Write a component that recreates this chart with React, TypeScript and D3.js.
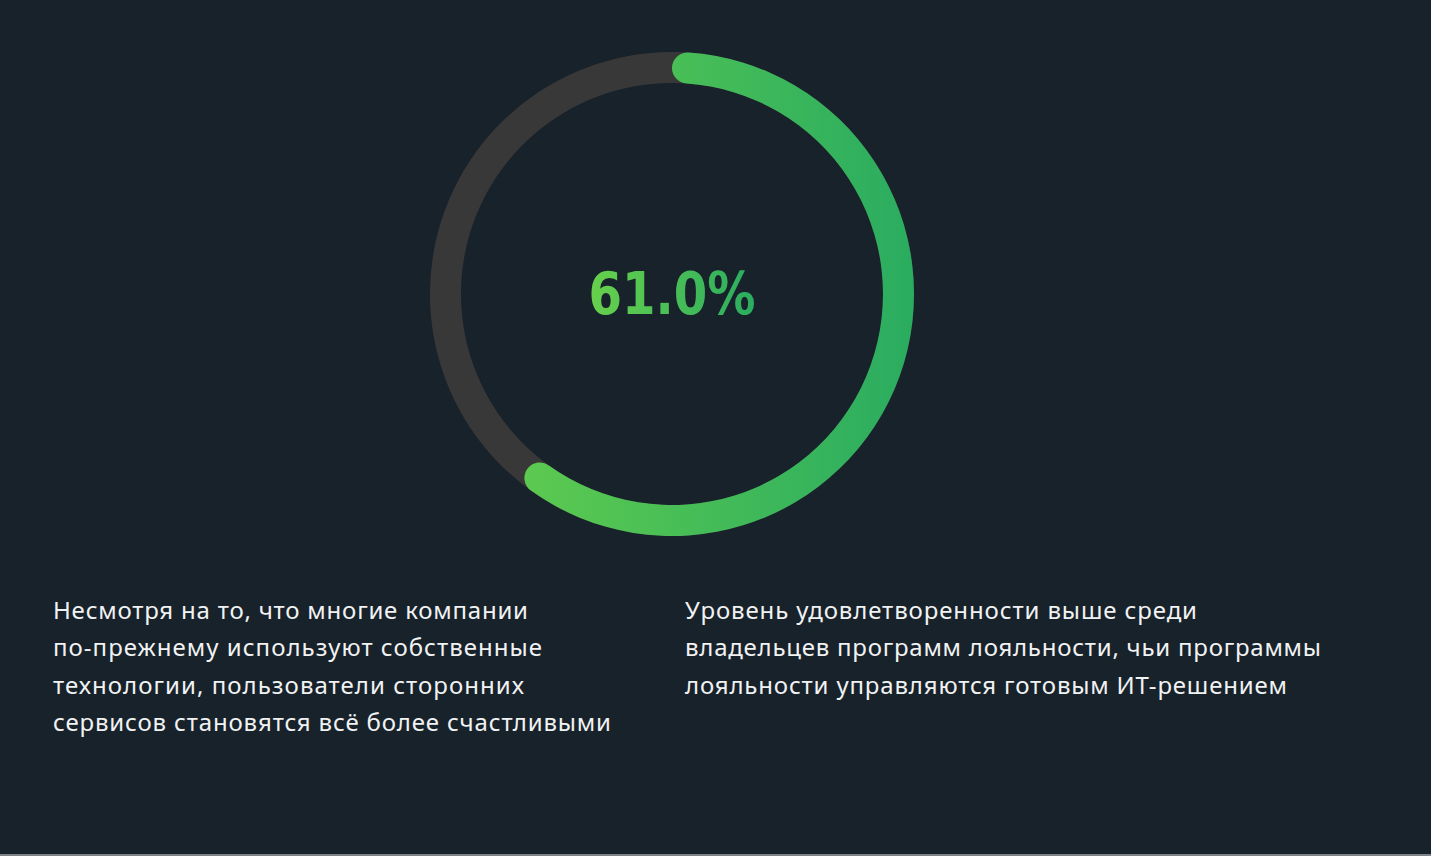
import React from "react";
import * as d3 from "d3";

const value = 61.0;
const valueLabel = "61.0%";
const leftLines = [
  "Несмотря на то, что многие компании",
  "по-прежнему используют собственные",
  "технологии, пользователи сторонних",
  "сервисов становятся всё более счастливыми",
];
const leftWidths = [475, 489, 471, 558];
const rightLines = [
  "Уровень удовлетворенности выше среди",
  "владельцев программ лояльности, чьи программы",
  "лояльности управляются готовым ИТ-решением",
];
const rightWidths = [512, 636, 602];

const W = 1431;
const H = 856;
const cx = 672;
const cy = 294;
const outerR = 242;
const innerR = 211;

export default function App() {
  const angle = d3.scaleLinear().domain([0, 100]).range([0, 2 * Math.PI]);
  const track = d3.arc()({
    innerRadius: innerR,
    outerRadius: outerR,
    startAngle: 0,
    endAngle: 2 * Math.PI,
  } as any) as string;
  const valueArc = d3
    .arc()
    .cornerRadius((outerR - innerR) / 2)({
    innerRadius: innerR,
    outerRadius: outerR,
    startAngle: 0,
    endAngle: angle(value),
  } as any) as string;

  const lineH = 37.4;
  const textStyle: React.CSSProperties = {
    fontFamily: "'Noto Sans', 'Open Sans', sans-serif",
    fontSize: 24,
    fill: "#f1f2f3",
  };

  return (
    <svg
      width={W}
      height={H}
      style={{ position: "absolute", left: 0, top: 0, display: "block" }}
    >
      <defs>
        <linearGradient
          id="ringGrad"
          gradientUnits="userSpaceOnUse"
          x1={-outerR}
          x2={outerR}
          y1={0}
          y2={0}
        >
          <stop offset="0%" stopColor="#68d14c" />
          <stop offset="100%" stopColor="#2aac60" />
        </linearGradient>
        <linearGradient id="textGrad" x1="0" x2="1" y1="0" y2="0">
          <stop offset="0%" stopColor="#68d14c" />
          <stop offset="100%" stopColor="#2aac60" />
        </linearGradient>
      </defs>
      <rect x={0} y={0} width={W} height={854} fill="#18222b" />
      <rect x={0} y={854} width={W} height={2} fill="#7e8387" />
      <g transform={`translate(${cx},${cy})`}>
        <path d={track} fill="#383838" />
        <path d={valueArc} fill="url(#ringGrad)" />
      </g>
      <text
        x={cx}
        y={314}
        textAnchor="middle"
        textLength={167}
        lengthAdjust="spacingAndGlyphs"
        style={{
          fontFamily: "'Liberation Sans Narrow', 'DejaVu Sans Condensed', sans-serif",
          fontWeight: 700,
          fontSize: 58,
          fill: "url(#textGrad)",
        }}
      >
        {valueLabel}
      </text>
      {leftLines.map((l, i) => (
        <text
          key={"l" + i}
          x={53}
          y={619 + i * lineH}
          textLength={leftWidths[i]}
          lengthAdjust="spacing"
          style={textStyle}
        >
          {l}
        </text>
      ))}
      {rightLines.map((l, i) => (
        <text
          key={"r" + i}
          x={685}
          y={619 + i * lineH}
          textLength={rightWidths[i]}
          lengthAdjust="spacing"
          style={textStyle}
        >
          {l}
        </text>
      ))}
    </svg>
  );
}
